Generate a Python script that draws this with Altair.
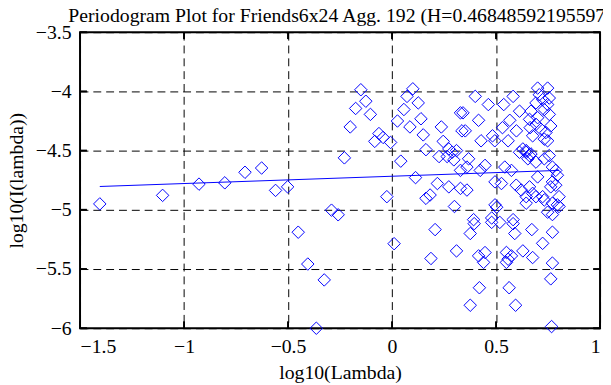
import altair as alt
import pandas as pd

TITLE = "Periodogram Plot for Friends6x24 Agg. 192 (H=0.46848592195597)"

# log10(Lambda) values
px = [
    -1.405, -1.103, -0.928, -0.804, -0.707, -0.627, -0.560, -0.502, -0.451, -0.405,
    -0.364, -0.326, -0.291, -0.259, -0.229, -0.201, -0.175, -0.150, -0.126, -0.104,
    -0.083, -0.063, -0.043, -0.025, -0.007, 0.010, 0.026, 0.042, 0.057, 0.072,
    0.086, 0.100, 0.113, 0.126, 0.139, 0.150, 0.163, 0.163, 0.183, 0.187,
    0.207, 0.218, 0.226, 0.237, 0.246, 0.265, 0.273, 0.273, 0.289, 0.297,
    0.300, 0.310, 0.310, 0.329, 0.336, 0.329, 0.329, 0.341, 0.352, 0.360,
    0.360, 0.368, 0.376, 0.376, 0.392, 0.395, 0.400, 0.416, 0.416, 0.420,
    0.424, 0.428, 0.440, 0.447, 0.447, 0.463, 0.479, 0.479, 0.483, 0.494,
    0.495, 0.495, 0.503, 0.518, 0.526, 0.531, 0.537, 0.542, 0.550, 0.550,
    0.558, 0.558, 0.563, 0.566, 0.574, 0.574, 0.582, 0.582, 0.582, 0.590,
    0.594, 0.597, 0.598, 0.613, 0.613, 0.621, 0.629, 0.629, 0.645, 0.645,
    0.645, 0.645, 0.653, 0.661, 0.661, 0.661, 0.664, 0.668, 0.668, 0.672,
    0.676, 0.676, 0.676, 0.692, 0.692, 0.692, 0.692, 0.700, 0.700, 0.700,
    0.708, 0.716, 0.724, 0.724, 0.724, 0.732, 0.732, 0.732, 0.732, 0.740,
    0.748, 0.748, 0.748, 0.748, 0.756, 0.756, 0.756, 0.763, 0.763, 0.763,
    0.767, 0.771, 0.771, 0.771, 0.771, 0.771, 0.771, 0.787, 0.787, 0.795,
    0.795, 0.803, 0.803,
]
# log10(I(lambda)) values
py = [
    -4.950, -4.878, -4.783, -4.772, -4.683, -4.647, -4.836, -4.806, -5.189, -5.458,
    -6.000, -5.592, -5.003, -5.042, -4.561, -4.300, -4.144, -3.986, -4.083, -4.194,
    -4.422, -4.356, -4.389, -4.889, -4.431, -5.286, -4.250, -4.589, -4.153, -4.042,
    -4.300, -3.978, -4.728, -4.097, -4.231, -4.367, -4.492, -4.903, -4.875, -5.411,
    -5.167, -4.778, -4.550, -4.300, -4.422, -4.550, -4.486, -4.806, -4.514, -4.578,
    -4.972, -4.500, -5.347, -4.181, -4.333, -4.667, -4.819, -4.181, -4.333, -4.639,
    -4.833, -4.569, -5.200, -5.806, -5.083, -5.117, -4.042, -4.244, -5.389, -5.658,
    -4.667, -4.417, -5.444, -4.625, -5.361, -4.111, -5.069, -5.106, -4.375, -4.417,
    -4.764, -4.958, -4.978, -5.106, -4.778, -4.306, -4.111, -4.639, -5.360, -5.444,
    -4.417, -5.417, -5.658, -4.244, -4.667, -5.389, -4.042, -5.083, -5.117, -5.200,
    -5.806, -4.792, -4.333, -4.167, -4.514, -4.833, -4.486, -5.347, -4.514, -4.500,
    -4.889, -4.944, -4.569, -4.236, -4.542, -4.806, -4.306, -4.167, -4.528, -5.167,
    -4.375, -4.861, -5.403, -4.097, -4.278, -4.597, -4.889, -3.972, -4.222, -4.722,
    -4.028, -4.319, -4.069, -4.889, -5.283, -4.153, -4.403, -4.569, -4.917, -4.347,
    -3.972, -4.111, -4.417, -5.020, -4.056, -4.194, -4.542, -4.292, -4.806, -5.583,
    -5.986, -4.639, -4.764, -4.944, -5.040, -5.189, -5.450, -4.667, -4.792, -4.708,
    -4.958, -4.889, -4.972,
]

# least-squares fit line end points
fit_x = [-1.405, 0.803]
fit_y = [-4.803, -4.667]

x_ticks = [-1.5, -1, -0.5, 0, 0.5, 1]
y_ticks = [-6, -5.5, -5, -4.5, -4, -3.5]

BLUE = "#0000ff"
FONT = "Liberation Serif"

pts = pd.DataFrame({"x": px, "y": py})
fit = pd.DataFrame({"x": fit_x, "y": fit_y})
xt = pd.DataFrame({"x": x_ticks})
yt = pd.DataFrame({"y": y_ticks})

xs = alt.Scale(domain=[-1.5, 1], nice=False, zero=False)
ys = alt.Scale(domain=[-6, -3.5], nice=False, zero=False)
XT = "log10(Lambda)"
YT = "log10(I(lambda))"

xaxis = alt.Axis(values=x_ticks, format="~g", title=XT)
yaxis = alt.Axis(values=y_ticks, format="~g", title=YT)

scatter = alt.Chart(pts).mark_point(
    shape="diamond", filled=False, color=BLUE, size=160, strokeWidth=1, opacity=1
).encode(
    x=alt.X("x:Q", scale=xs, axis=xaxis, title=XT),
    y=alt.Y("y:Q", scale=ys, axis=yaxis, title=YT),
)

line = alt.Chart(fit).mark_line(color=BLUE, strokeWidth=1).encode(
    x=alt.X("x:Q", scale=xs, title=XT),
    y=alt.Y("y:Q", scale=ys, title=YT),
)

tick_style = dict(color="black", strokeWidth=2)
xb = alt.Chart(xt).mark_rule(**tick_style).encode(
    x=alt.X("x:Q", scale=xs, title=XT), y=alt.value(300), y2=alt.value(293)
)
xtop = alt.Chart(xt).mark_rule(**tick_style).encode(
    x=alt.X("x:Q", scale=xs, title=XT), y=alt.value(0), y2=alt.value(7)
)
yl = alt.Chart(yt).mark_rule(**tick_style).encode(
    y=alt.Y("y:Q", scale=ys, title=YT), x=alt.value(0), x2=alt.value(7)
)
yr = alt.Chart(yt).mark_rule(**tick_style).encode(
    y=alt.Y("y:Q", scale=ys, title=YT), x=alt.value(527), x2=alt.value(520)
)

chart = alt.layer(scatter, line, xb, xtop, yl, yr).properties(
    width=527,
    height=300,
    background="white",
    autosize=alt.AutoSizeParams(type="none"),
    padding={"left": 73, "top": 22, "right": 3, "bottom": 55},
    title=alt.TitleParams(
        TITLE, font=FONT, fontSize=20, fontWeight="normal", color="black",
        anchor="middle", offset=6, dy=10,
    ),
).configure_view(
    stroke="black", strokeWidth=2
).configure_axis(
    grid=True, gridColor="black", gridOpacity=1, gridWidth=1, gridDash=[8, 5],
    domain=False, ticks=False, tickSize=0,
    labelFont=FONT, labelFontSize=20, labelColor="black",
    titleFont=FONT, titleFontSize=20, titleFontWeight="normal", titleColor="black",
).configure_axisX(
    labelPadding=9, titlePadding=6
).configure_axisY(
    labelPadding=9, titlePadding=9
)

chart.save("out.html", embed_options={"renderer": "svg", "actions": False})
